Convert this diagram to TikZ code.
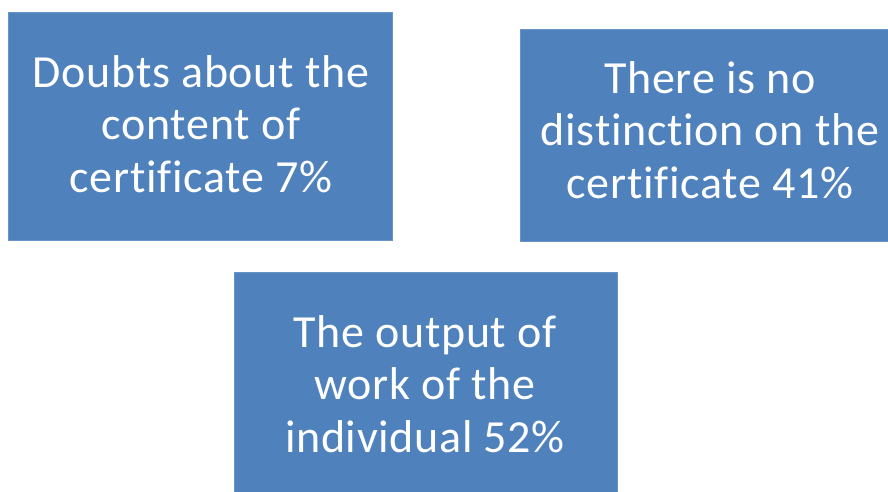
\documentclass[tikz,border=0pt]{standalone}
\usepackage{fontspec}
\setmainfont[Ligatures=NoCommon,LetterSpace=1.5]{Carlito}
\definecolor{boxblue}{HTML}{4F81BD}
\begin{document}
\begin{tikzpicture}[x=1pt,y=-1pt,
  factbox/.style={fill=boxblue, draw=boxblue!85!white, line width=0.8pt},
  facttext/.style={text=white, align=center, anchor=base, inner sep=0pt,
    font=\fontsize{46}{52.5}\selectfont}]
\useasboundingbox (0,0) rectangle (888,492);
% three coloured boxes
\path[factbox] (8,12) rectangle (392,240);
\path[factbox] (520,29) rectangle (888,241);
\path[factbox] (234,272) rectangle (617,492);
% labels, placed by the baseline of their last line
\node[facttext] (doubts) at (201,192) {Doubts about the\\content of\\certificate 7\%};
\node[facttext] (distinction) at (710,198) {There is no\\distinction on the\\certificate 41\%};
\node[facttext] (output) at (425,452) {The output of\\work of the\\individual 52\%};
\end{tikzpicture}
\end{document}
